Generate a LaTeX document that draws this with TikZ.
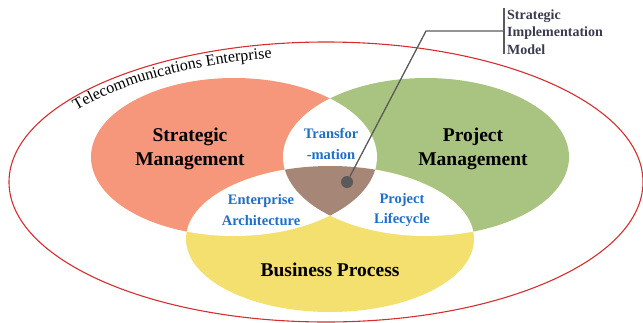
\documentclass[tikz,border=0pt]{standalone}
\usepackage{fontspec}
\setmainfont{LiberationSerif}[Extension=.ttf, UprightFont=*-Regular, BoldFont=*-Bold, ItalicFont=*-Italic, BoldItalicFont=*-BoldItalic]
\usetikzlibrary{decorations.text}
\definecolor{stratcol}{HTML}{F6967A}
\definecolor{projcol}{HTML}{A9C480}
\definecolor{buscol}{HTML}{F3E06F}
\definecolor{corecol}{HTML}{A68676}
\definecolor{entcol}{HTML}{D62E30}
\definecolor{lapblue}{HTML}{1F6EC8}
\definecolor{leadgray}{HTML}{5A5A5A}
\definecolor{labelcol}{HTML}{3B3B4F}

\begin{document}
\begin{tikzpicture}[x=1pt,y=-1pt,
    venn/.style={font=\bfseries\fontsize{19.5}{23.5}\selectfont, align=center},
    overlap/.style={font=\bfseries\fontsize{14.5}{20.5}\selectfont, align=center, text=lapblue},
    lead/.style={draw=leadgray, line width=1.3pt}]
        \useasboundingbox (0,0) rectangle (643,322);
        % the three areas
        \fill[stratcol] (234,157) ellipse [x radius=143, y radius=79];
        \fill[projcol] (426,157) ellipse [x radius=143, y radius=79];
        \fill[buscol] (330,239) ellipse [x radius=144, y radius=73];
        % overlaps of two
        \begin{scope}
            \clip (234,157) ellipse [x radius=143, y radius=79];
            \fill[white] (426,157) ellipse [x radius=143, y radius=79];
            \fill[white] (330,239) ellipse [x radius=144, y radius=73];
        \end{scope}
        \begin{scope}
            \clip (426,157) ellipse [x radius=143, y radius=79];
            \fill[white] (330,239) ellipse [x radius=144, y radius=73];
        \end{scope}
        % overlap of all three
        \begin{scope}
            \clip (234,157) ellipse [x radius=143, y radius=79];
            \clip (426,157) ellipse [x radius=143, y radius=79];
            \fill[corecol] (330,239) ellipse [x radius=144, y radius=73];
        \end{scope}
        \draw[entcol, line width=1.1pt] (326,182) ellipse [x radius=317, y radius=140];
        \path[decorate, decoration={text along path, text align=center,
            text={|\fontsize{16}{16}\selectfont|Telecommunications Enterprise}}]
            (326,182) ++(211:303 and 126) arc [start angle=211, end angle=262, x radius=303, y radius=126];
        \node[venn] (strat) at (190,149) {Strategic\\Management};
        \node[venn] (proj) at (473,149) {Project\\Management};
        \node[venn] (bus) at (330,270) {Business Process};
        \node[overlap] (trans) at (331,144) {Transfor\\-mation};
        \node[overlap] (ea) at (261,210) {Enterprise\\Architecture};
        \node[overlap] (plc) at (402,210) {Project\\Lifecycle};
        \node[anchor=west, font=\bfseries\fontsize{14}{17.5}\selectfont, align=left, text=labelcol, inner sep=0] (sim) at (507,32) {Strategic\\Implementation\\Model};
        \coordinate (bend) at (426,31);
        \coordinate (brk) at (504,31);
        \node[circle, fill=leadgray, minimum size=12pt, inner sep=0] (core) at (347,182) {};
        \draw[lead] (core) -- (bend) -- (brk);
        \draw[leadgray, line width=2.6pt] (504,8) -- (504,54);
    \end{tikzpicture}
\end{document}
